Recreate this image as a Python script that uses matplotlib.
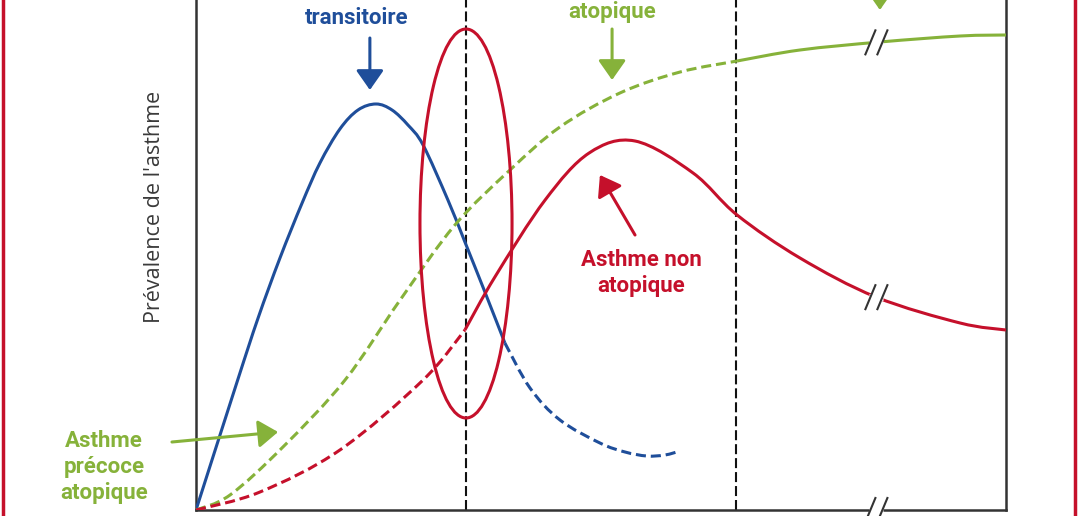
import matplotlib
matplotlib.use("Agg")
import matplotlib.pyplot as plt
import numpy as np
from matplotlib.lines import Line2D
from matplotlib.patches import Ellipse, PathPatch
from matplotlib.path import Path

BLUE, GREEN, RED, INK = "#1f4e9a", "#86b23a", "#c5102b", "#333333"
BOLD = dict(fontfamily="Roboto", fontweight="bold", fontsize=16)

# x: age segments (0 -> 1 -> 2 -> adult at 3), y: prevalence (arbitrary units)
blue_x = [0, 0.152, 0.230, 0.311, 0.393, 0.459, 0.533, 0.600, 0.667,
          0.726, 0.785, 0.841, 0.933, 0.996, 1.070, 1.144]
blue_y = [0, 1.28, 1.92, 2.52, 3.07, 3.47, 3.81, 4.00, 4.06,
          4.00, 3.85, 3.65, 3.10, 2.68, 2.18, 1.67]
blue_dash_x = [1.144, 1.237, 1.348, 1.496, 1.589, 1.670, 1.737, 1.793]
blue_dash_y = [1.67, 1.22, 0.90, 0.67, 0.58, 0.54, 0.55, 0.59]

green_dash_x = [0, 0.126, 0.322, 0.552, 0.756, 0.959, 1.163, 1.348, 1.570, 1.793, 2.004]
green_dash_y = [0, 0.15, 0.63, 1.30, 2.10, 2.85, 3.40, 3.83, 4.17, 4.38, 4.49]
green_x = [2.004, 2.237, 2.533, 2.830, 3.0]
green_y = [4.49, 4.60, 4.68, 4.74, 4.75]

red_dash_x = [0, 0.237, 0.533, 0.841, 0.996]
red_dash_y = [0, 0.18, 0.60, 1.30, 1.80]
red_x = [0.996, 1.107, 1.293, 1.456, 1.626, 1.841, 2.004, 2.237, 2.518, 2.830, 3.0]
red_y = [1.80, 2.33, 3.10, 3.57, 3.69, 3.37, 2.95, 2.52, 2.13, 1.87, 1.80]

AGE_MARKS = [1, 2]
BREAK_X = 2.52


def curve(ax, x, y, color, dashed=False):
    # smooth path through the read points (cubic Bezier, Catmull-Rom tangents)
    p = np.column_stack([x, y])
    n = len(p)
    verts, codes = [p[0]], [Path.MOVETO]
    for i in range(n - 1):
        a, b = p[max(i - 1, 0)], p[min(i + 2, n - 1)]
        verts += [p[i] + (p[i + 1] - a) / 6, p[i + 1] - (b - p[i]) / 6, p[i + 1]]
        codes += [Path.CURVE4] * 3
    ls = (0, (3.3, 1.6)) if dashed else "-"
    ax.add_patch(PathPatch(Path(verts, codes), fill=False, ec=color, lw=2.2,
                           ls=ls, capstyle="butt", zorder=3))


def break_mark(ax, x, y):
    px, py = 3 / 810, 1 / 100
    ax.plot([x - 7 * px, x + 7 * px], [y, y], color="white", lw=5, zorder=6,
            clip_on=False, solid_capstyle="butt")
    for dx in (-6, 6):
        ax.plot([x + (dx - 5) * px, x + (dx + 5) * px], [y - 12 * py, y + 12 * py],
                color=INK, lw=1.5, zorder=7, clip_on=False)


fig = plt.figure(figsize=(10.78, 5.16), dpi=100)
ax = fig.add_axes([196 / 1078, 6 / 516, 810 / 1078, 520 / 516])
ax.set_xlim(0, 3)
ax.set_ylim(0, 5.2)
ax.set_xticks([]); ax.set_yticks([])
ax.spines["top"].set_visible(False)
for s in ("left", "right", "bottom"):
    ax.spines[s].set_color(INK)
    ax.spines[s].set_linewidth(1.8)

for xv in AGE_MARKS:
    ax.axvline(xv, color="#111111", lw=1.5, dashes=(4.8, 1.9), zorder=1)

curve(ax, blue_x, blue_y, BLUE)
curve(ax, blue_dash_x, blue_dash_y, BLUE, dashed=True)
curve(ax, green_dash_x, green_dash_y, GREEN, dashed=True)
curve(ax, green_x, green_y, GREEN)
curve(ax, red_dash_x, red_dash_y, RED, dashed=True)
curve(ax, red_x, red_y, RED)

ax.add_patch(Ellipse((1.0, 2.865), 0.341, 3.89, fill=False, ec=RED, lw=2.2, zorder=4))

break_mark(ax, BREAK_X, np.interp(BREAK_X, green_x, green_y))
break_mark(ax, BREAK_X, np.interp(BREAK_X, red_x, red_y))
break_mark(ax, BREAK_X, 0)


def arrow(tail, tip, color):
    ax.annotate("", xy=tip, xytext=tail,
                arrowprops=dict(arrowstyle="-|>,head_length=0.6,head_width=0.42",
                                mutation_scale=20, color=color, lw=2.2,
                                shrinkA=0, shrinkB=0), zorder=5)


arrow((0.644, 4.72), (0.644, 4.20), BLUE)
arrow((1.541, 4.81), (1.541, 4.30), GREEN)
arrow((2.533, 5.6), (2.533, 5.00), GREEN)
arrow((1.626, 2.75), (1.496, 3.35), RED)
arrow((-0.089, 0.68), (0.304, 0.78), GREEN)

ax.text(0.596, 4.92, "transitoire", color=BLUE, ha="center", va="center", **BOLD)
ax.text(1.541, 4.98, "atopique", color=GREEN, ha="center", va="center", **BOLD)
ax.text(1.648, 2.37, "Asthme non\natopique", color=RED, ha="center", va="center",
        linespacing=1.25, **BOLD)
ax.text(-0.341, 0.43, "Asthme\nprécoce\natopique", color=GREEN, ha="center", va="center",
        linespacing=1.25, clip_on=False, **BOLD)
ax.text(-0.152, 3.03, "Prévalence de l'asthme", rotation=90, ha="center", va="center",
        fontfamily="Open Sans", fontsize=15.5, color="#3a3a3a", clip_on=False)

for xf in (3 / 1078, 1075 / 1078):
    fig.add_artist(Line2D([xf, xf], [0, 1], transform=fig.transFigure, color=RED, lw=2.5))

fig.savefig("out.png", dpi=100)
